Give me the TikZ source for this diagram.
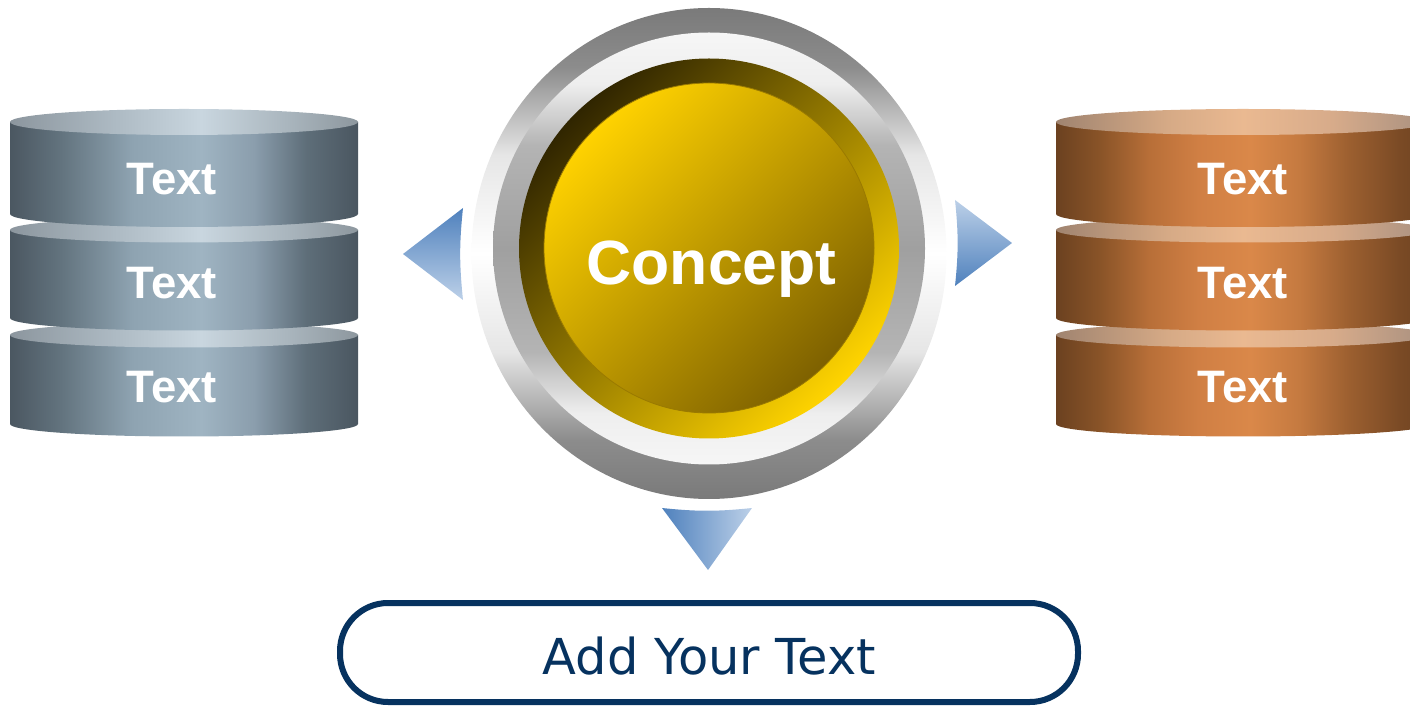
\documentclass[tikz,border=0pt]{standalone}
\usepackage{fontspec}
\setmainfont{Liberation Sans}
\newfontfamily\dejavu{DejaVu Sans}

% grey stack
\definecolor{gsA}{HTML}{4B5761}
\definecolor{gsB}{HTML}{63747F}
\definecolor{gsC}{HTML}{8EA3B1}
\definecolor{gsD}{HTML}{9FB4C2}
\definecolor{gsE}{HTML}{8B9EAD}
\definecolor{gsF}{HTML}{5E6E79}
\definecolor{gsG}{HTML}{4A5660}
\definecolor{gtA}{HTML}{8C969E}
\definecolor{gtB}{HTML}{ADBAC3}
\definecolor{gtC}{HTML}{C9D6DF}
\definecolor{gtD}{HTML}{A9B5BD}
\definecolor{gtE}{HTML}{8D979E}
% orange stack
\definecolor{osA}{HTML}{6B4120}
\definecolor{osB}{HTML}{8A5428}
\definecolor{osC}{HTML}{B86F38}
\definecolor{osD}{HTML}{D07F44}
\definecolor{osE}{HTML}{DA8849}
\definecolor{osF}{HTML}{C57A40}
\definecolor{osG}{HTML}{9A5E2F}
\definecolor{osH}{HTML}{7A4A25}
\definecolor{osI}{HTML}{6E4321}
\definecolor{otA}{HTML}{A08470}
\definecolor{otB}{HTML}{D6AA86}
\definecolor{otC}{HTML}{EAB991}
\definecolor{otD}{HTML}{D7AB8A}
\definecolor{otE}{HTML}{A89080}
% rings
\definecolor{rgA}{HTML}{7A7A7A}
\definecolor{rgB}{HTML}{8C8C8C}
\definecolor{rgC}{HTML}{E6E6E6}
\definecolor{rwA}{HTML}{F6F6F6}
\definecolor{rwB}{HTML}{EEEEEE}
\definecolor{rwC}{HTML}{B4B4B4}
\definecolor{rwD}{HTML}{A0A0A0}
% gold
\definecolor{goldDark}{HTML}{302500}
\definecolor{goldMid}{HTML}{AC8C00}
\definecolor{goldBright}{HTML}{FFD400}
\definecolor{diskTop}{HTML}{FFD200}
\definecolor{diskMid}{HTML}{D2A900}
\definecolor{diskBot}{HTML}{7E6100}
\definecolor{diskEdge}{HTML}{9A7A00}
% arrows and box
\definecolor{arrDark}{HTML}{4F81BD}
\definecolor{arrLight}{HTML}{BCD0E8}
\definecolor{navy}{HTML}{06325F}

\pgfdeclarehorizontalshading{greyside}{100bp}{color(0bp)=(gsA); color(25bp)=(gsA); color(32.5bp)=(gsB); color(42.5bp)=(gsC); color(52.5bp)=(gsD); color(60bp)=(gsE); color(67.5bp)=(gsF); color(75bp)=(gsG); color(100bp)=(gsG)}
\pgfdeclarehorizontalshading{greytop}{100bp}{color(0bp)=(gtA); color(25bp)=(gtA); color(40bp)=(gtB); color(52.5bp)=(gtC); color(65bp)=(gtD); color(75bp)=(gtE); color(100bp)=(gtE)}
\pgfdeclarehorizontalshading{orangeside}{100bp}{color(0bp)=(osA); color(25bp)=(osA); color(31bp)=(osB); color(37.5bp)=(osC); color(44bp)=(osD); color(51bp)=(osE); color(57.5bp)=(osF); color(64.5bp)=(osG); color(71bp)=(osH); color(75bp)=(osI); color(100bp)=(osI)}
\pgfdeclarehorizontalshading{orangetop}{100bp}{color(0bp)=(otA); color(25bp)=(otA); color(40bp)=(otB); color(50bp)=(otC); color(62bp)=(otD); color(75bp)=(otE); color(100bp)=(otE)}
\pgfdeclareverticalshading{outerring}{100bp}{color(0bp)=(rgA); color(25bp)=(rgA); color(31bp)=(rgB); color(40bp)=(rgC); color(50bp)=(white); color(60bp)=(rgC); color(69bp)=(rgB); color(75bp)=(rgA); color(100bp)=(rgA)}
\pgfdeclareverticalshading{innerring}{100bp}{color(0bp)=(rwA); color(25bp)=(rwA); color(31bp)=(rwB); color(38bp)=(rwC); color(50bp)=(rwD); color(62bp)=(rwC); color(69bp)=(rwB); color(75bp)=(rwA); color(100bp)=(rwA)}

\newcommand{\drawcyl}[7]{%
  \shade[shading=#6] ({#1-#2},#3) -- ({#1-#2},#4)
     arc[start angle=180, end angle=360, x radius=#2pt, y radius=#5pt]
     -- ({#1+#2},#3) -- cycle;
  \shade[shading=#7] (#1,#3) ellipse[x radius=#2pt, y radius=#5pt];
}

\tikzset{
  stacktext/.style={text=white, font=\bfseries\fontsize{45.5}{54}\selectfont, anchor=base, inner sep=0pt},
  concepttext/.style={text=white, font=\bfseries\fontsize{62.5}{74}\selectfont, anchor=base, inner sep=0pt},
  boxtext/.style={text=navy, font=\dejavu\fontsize{49.5}{58}\selectfont, anchor=base, inner sep=0pt},
  pillbox/.style={draw=navy, line width=6pt, fill=white, rounded corners=48pt, inner sep=0pt},
}

\begin{document}
\begin{tikzpicture}[x=1pt, y=1pt]
\useasboundingbox (0,0) rectangle (1410,707);
\clip (0,0) rectangle (1410,707);

% left stack (drawn bottom to top)
\drawcyl{184}{174}{372}{283}{12.5}{greyside}{greytop}
\drawcyl{184}{174}{477}{389}{12.5}{greyside}{greytop}
\drawcyl{184}{174}{585}{493}{13}{greyside}{greytop}
\node[stacktext] (l1) at (172,512) {Text};
\node[stacktext] (l2) at (172,408) {Text};
\node[stacktext] (l3) at (172,304) {Text};

% right stack
\drawcyl{1243}{187}{372}{283}{12.5}{orangeside}{orangetop}
\drawcyl{1243}{187}{477}{389}{12.5}{orangeside}{orangetop}
\drawcyl{1243}{187}{585}{493}{13}{orangeside}{orangetop}
\node[stacktext] (r1) at (1243,512) {Text};
\node[stacktext] (r2) at (1243,408) {Text};
\node[stacktext] (r3) at (1243,304) {Text};

% central badge
\shade[shading=outerring] (709,453.5) ellipse[x radius=237.5pt, y radius=245.5pt];
\shade[shading=innerring] (709,458.5) circle[radius=216pt];
\shade[top color=goldDark, middle color=goldMid, bottom color=goldBright, shading angle=45] (709,458.5) circle[radius=190pt];
\shade[top color=diskTop, middle color=diskMid, bottom color=diskBot, shading angle=45, draw=diskEdge, line width=0.8pt] (709,459) circle[radius=165pt];
\node[concepttext] (concept) at (711.5,422) {Concept};

% arrows
\shade[top color=arrDark, bottom color=arrLight] (403,453) -- (463,499) to[bend right=6] (463,407) -- cycle;
\shade[top color=arrLight, bottom color=arrDark] (1012,464) -- (955,421) to[bend right=6] (955,507) -- cycle;
\shade[left color=arrDark, right color=arrLight] (708,137) -- (662,199) to[bend right=6] (752,199) -- cycle;

% bottom box
\node[pillbox, minimum width=738pt, minimum height=99pt] (addbox) at (709,54.5) {};
\node[boxtext] (addtext) at (709.5,33) {Add Your Text};
\end{tikzpicture}
\end{document}
